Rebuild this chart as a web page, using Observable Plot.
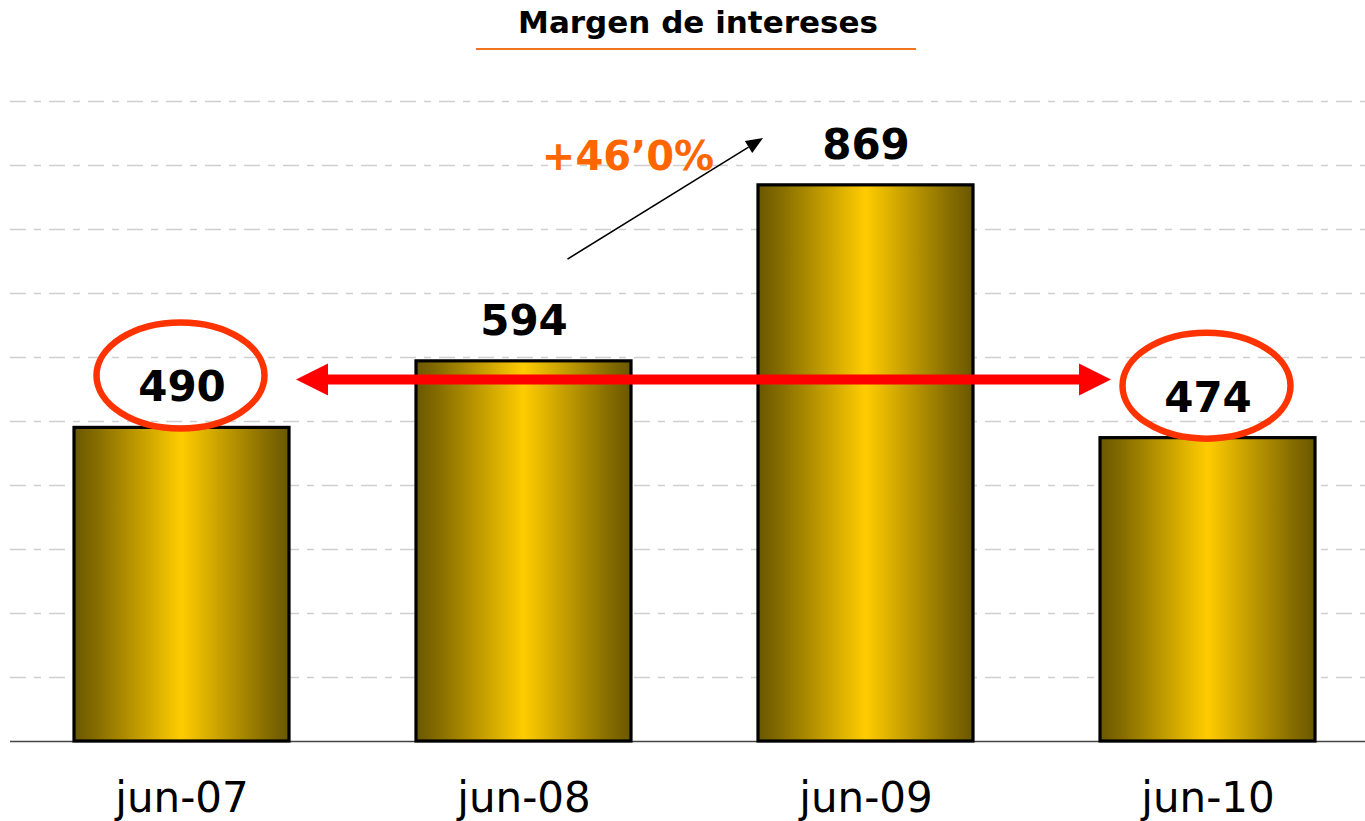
<!DOCTYPE html>
<html>
<head>
<meta charset="utf-8">
<script src="https://cdn.jsdelivr.net/npm/d3@7"></script>
<script src="https://cdn.jsdelivr.net/npm/@observablehq/plot@0.6"></script>
<style>
  html, body { margin: 0; padding: 0; background: #fff; overflow: hidden; }
  body { font-family: "DejaVu Sans", Verdana, sans-serif; }
  #header { position: relative; width: 1365px; height: 60px; }
  #title { position: absolute; left: 478px; width: 440px; top: 5px; text-align: center;
           font-weight: bold; font-size: 31px; line-height: 35px; color: #000; white-space: nowrap; }
  #rule { position: absolute; left: 476px; width: 440px; top: 48px; height: 2px; background: #f37321; }
  #chart svg { display: block; }
</style>
</head>
<body>
<div id="header"><div id="title">Margen de intereses</div><div id="rule"></div></div>
<div id="chart"></div>
<script>
// ---- data ----
const periods = ["jun-07", "jun-08", "jun-09", "jun-10"];
const values = [490, 594, 869, 474];
const gridValues = [100, 200, 300, 400, 500, 600, 700, 800, 900, 1000];
const highlighted = ["jun-07", "jun-10"];
const growthText = ["+46’0%"];
const comparisonLevel = [565];          // level of the red double arrow
const growthArrowLevels = [753, 942];   // start / end levels of the black arrow

const data = periods.map((p, i) => ({period: p, value: values[i]}));
const font = "'DejaVu Sans', Verdana, sans-serif";

const plot = Plot.plot({
  width: 1365,
  height: 761,
  marginTop: 41,
  marginBottom: 80,
  marginLeft: 10,
  marginRight: 0,
  style: {fontFamily: font, background: "transparent", overflow: "visible"},
  x: {type: "band", domain: periods, range: [10, 1380], paddingInner: 0.37, paddingOuter: 0.185, axis: null},
  y: {domain: [0, 1000], axis: null},
  marks: [
    Plot.ruleY(gridValues, {stroke: "#cfcfcf", strokeWidth: 1.3, strokeDasharray: "16,8,7,8"}),
    Plot.ruleY([0], {stroke: "#444", strokeWidth: 1.5}),
    Plot.barY(data, {x: "period", y: "value", fill: "url(#barGrad)", stroke: "#000", strokeWidth: 3.2}),
    Plot.text(data, {x: "period", y: "value", text: d => String(d.value), dy: -40,
      fontSize: 42, fontWeight: "bold", fill: "#000", fontFamily: font}),
    Plot.text(growthText, {x: () => "jun-08", y: () => 913, text: d => d, dx: 104,
      fontSize: 40, fontWeight: "bold", fill: "#ff6600", fontFamily: font}),
    Plot.axisX({tickSize: 0, tickPadding: 41, fontSize: 42, fontFamily: font, fill: "#000", label: null})
  ]
});

document.getElementById("chart").appendChild(plot);

const svg = d3.select(plot.tagName.toLowerCase() === "svg" ? plot : plot.querySelector("svg"));

// gradient for bars
const defs = svg.insert("defs", ":first-child");
const grad = defs.append("linearGradient").attr("id", "barGrad")
  .attr("x1", 0).attr("x2", 1).attr("y1", 0).attr("y2", 0);
[[0, "#6a5700"], [0.12, "#8a7000"], [0.5, "#ffcc00"], [0.88, "#8a7000"], [1, "#6a5700"]]
  .forEach(([o, c]) => grad.append("stop").attr("offset", o).attr("stop-color", c));

const xs = plot.scale("x");
const ys = plot.scale("y");
const bw = xs.bandwidth;
const xStart = p => xs.apply(p);
const xCenter = p => xs.apply(p) + bw / 2;
const valueOf = p => values[periods.indexOf(p)];

const ann = svg.append("g").attr("class", "annotations");

// red double arrow
const ya = ys.apply(comparisonLevel[0]);
const xl = xStart("jun-07") + bw + 7;
const xr = xStart("jun-10") + 11;
const hl = 32, hh = 16, sh = 5;
ann.append("path")
  .attr("d", `M${xl},${ya} L${xl + hl},${ya - hh} L${xl + hl},${ya - sh} L${xr - hl},${ya - sh} L${xr - hl},${ya - hh} L${xr},${ya} L${xr - hl},${ya + hh} L${xr - hl},${ya + sh} L${xl + hl},${ya + sh} L${xl + hl},${ya + hh} Z`)
  .attr("fill", "#ff0000");

// ellipses around highlighted values
highlighted.forEach(p => {
  ann.append("ellipse")
    .attr("cx", xCenter(p) - 1)
    .attr("cy", ys.apply(valueOf(p)) - 52)
    .attr("rx", 84).attr("ry", 53)
    .attr("fill", "none").attr("stroke", "#ff3300").attr("stroke-width", 6.5);
});

// black growth arrow
const x0 = xCenter("jun-08") + 44, y0 = ys.apply(growthArrowLevels[0]);
const x1 = xStart("jun-09") + 5, y1 = ys.apply(growthArrowLevels[1]);
const dx = x1 - x0, dy = y1 - y0, len = Math.hypot(dx, dy);
const ux = dx / len, uy = dy / len;
const headL = 17, headW = 7;
const bx = x1 - ux * headL, by = y1 - uy * headL;
ann.append("line").attr("x1", x0).attr("y1", y0).attr("x2", bx).attr("y2", by)
  .attr("stroke", "#000").attr("stroke-width", 1.6);
ann.append("path")
  .attr("d", `M${x1},${y1} L${bx - uy * headW},${by + ux * headW} L${bx + uy * headW},${by - ux * headW} Z`)
  .attr("fill", "#000");
</script>
</body>
</html>
